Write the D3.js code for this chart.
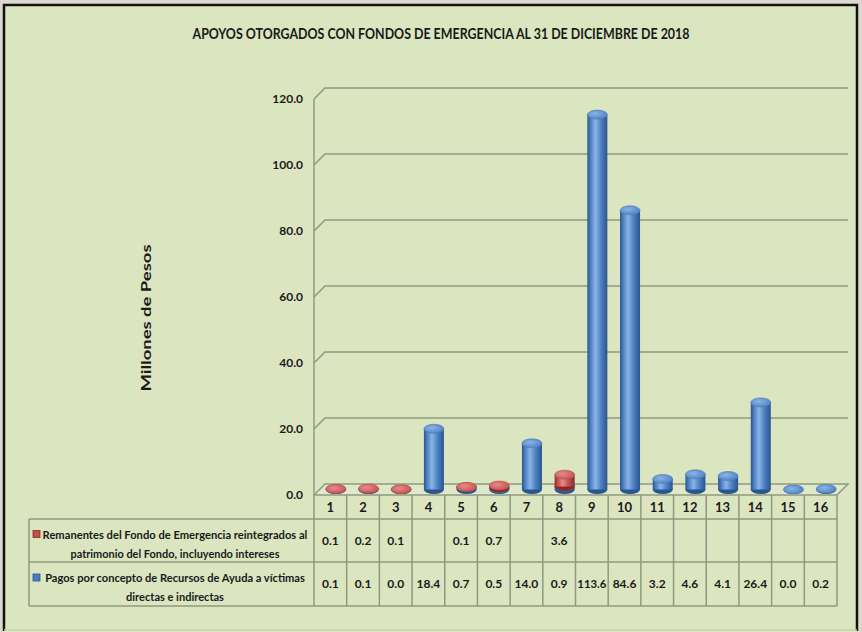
<!DOCTYPE html>
<html><head><meta charset="utf-8">
<script src="https://cdn.jsdelivr.net/npm/d3@7"></script>
<style>
html,body{margin:0;padding:0;background:#ddd8cf;}
svg{display:block;}
text{font-family:Lato,"Open Sans","Liberation Sans",sans-serif;font-weight:bold;fill:#1a1a1a;}
</style></head>
<body>
<svg id="c" width="862" height="632"></svg>
<script>
const title = "APOYOS OTORGADOS CON FONDOS DE EMERGENCIA AL 31 DE DICIEMBRE DE 2018";
const yTitle = "Millones de Pesos";
const categories = ["1","2","3","4","5","6","7","8","9","10","11","12","13","14","15","16"];
const remanentes = [0.1,0.2,0.1,null,0.1,0.7,null,3.6,null,null,null,null,null,null,null,null];
const pagos = [0.1,0.1,0.0,18.4,0.7,0.5,14.0,0.9,113.6,84.6,3.2,4.6,4.1,26.4,0.0,0.2];
const yTicks = [0,20,40,60,80,100,120];
const seriesNames = [
  ["Remanentes del Fondo de Emergencia reintegrados al","patrimonio del Fondo, incluyendo intereses"],
  ["Pagos por concepto de Recursos de Ayuda a víctimas","directas e indirectas"]
];
const seriesValues = [remanentes, pagos];
const seriesColors = [
  {dark:"#8a2a28", mid:"#c0504d", light:"#e88a86"},
  {dark:"#2a5590", mid:"#4a7ebf", light:"#8ab4e6"}
];

const svg = d3.select("#c");
const defs = svg.append("defs");
seriesColors.forEach((c,i)=>{
  const g = defs.append("linearGradient").attr("id","body"+i).attr("x1","0").attr("x2","1").attr("y1","0").attr("y2","0");
  g.append("stop").attr("offset","0").attr("stop-color",c.dark);
  g.append("stop").attr("offset","0.15").attr("stop-color",c.mid);
  g.append("stop").attr("offset","0.4").attr("stop-color",c.light);
  g.append("stop").attr("offset","0.7").attr("stop-color",c.mid);
  g.append("stop").attr("offset","1").attr("stop-color",c.dark);
  const t = defs.append("radialGradient").attr("id","top"+i).attr("cx","0.4").attr("cy","0.4").attr("r","0.7");
  t.append("stop").attr("offset","0").attr("stop-color",c.light);
  t.append("stop").attr("offset","1").attr("stop-color",c.mid);
});

// frame
svg.append("rect").attr("x",3).attr("y",4).attr("width",856).attr("height",628).attr("fill","#dbe5c0");
svg.append("path").attr("d","M4,631 V5 H857 V631").attr("fill","none").attr("stroke","#111").attr("stroke-width",2.5);
svg.append("line").attr("x1",4).attr("x2",857).attr("y1",630).attr("y2",630).attr("stroke","#c9d4ae").attr("stroke-width",1.5);

// title
svg.append("text").attr("x",441).attr("y",39).attr("text-anchor","middle").style("font-size","15px")
  .attr("textLength",497).attr("lengthAdjust","spacingAndGlyphs").text(title);

// geometry
const x0 = 314, x1 = 837, dx = 11, dy = -11;
const x = d3.scaleBand().domain(categories).range([x0,x1]);
const y = d3.scaleLinear().domain([0,120]).range([495,99]);
const gridColor = "#8e9b80";

const grid = svg.append("g");
yTicks.forEach(t=>{
  const yy = y(t);
  if (t===0) {
    grid.append("path").attr("d",`M${x0},${yy} L${x0+dx},${yy+dy} H${x1+dx} L${x1},${yy}`)
      .attr("fill","#dfe8c8").attr("stroke",gridColor).attr("stroke-width",1.5);
  } else {
    grid.append("path").attr("d",`M${x0},${yy} L${x0+dx},${yy+dy} H${x1+dx}`)
      .attr("fill","none").attr("stroke",gridColor).attr("stroke-width",1.5);
  }
});
grid.append("line").attr("x1",x0).attr("x2",x0).attr("y1",y(120)).attr("y2",y(0)).attr("stroke",gridColor).attr("stroke-width",1.5);

// y tick labels
svg.append("g").selectAll("text").data(yTicks).join("text")
  .attr("x",303).attr("y",d=>y(d)+4).attr("text-anchor","end").style("font-size","12px")
  .text(d=>d3.format(".1f")(d));

// y axis title
svg.append("text").attr("transform","translate(151,318) rotate(-90)").attr("text-anchor","middle")
  .style("font-size","14px").attr("textLength",147).attr("lengthAdjust","spacingAndGlyphs").text(yTitle);

// cylinders (stacked: pagos bottom, remanentes top), at mid depth
const bw = 20, ry = 4.5;
const bars = svg.append("g");
function cylinder(cx, yb, yt, idx){
  const g = bars.append("g");
  g.append("ellipse").attr("cx",cx).attr("cy",yb).attr("rx",bw/2).attr("ry",ry).attr("fill",seriesColors[idx].dark);
  g.append("rect").attr("x",cx-bw/2).attr("y",yt).attr("width",bw).attr("height",Math.max(0,yb-yt)).attr("fill",`url(#body${idx})`);
  g.append("ellipse").attr("cx",cx).attr("cy",yt).attr("rx",bw/2).attr("ry",ry).attr("fill",`url(#top${idx})`)
    .attr("stroke",seriesColors[idx].mid).attr("stroke-width",0.6);
}
categories.forEach((c,i)=>{
  const cx = x(c) + x.bandwidth()/2 + dx/2;
  const base = (v)=> y(v) + dy/2;
  const p = pagos[i] ?? 0;
  if (pagos[i] !== null) cylinder(cx, base(0), base(p), 1);
  if (remanentes[i] !== null) cylinder(cx, base(p), base(p + remanentes[i]), 0);
});

// data table
const tbl = svg.append("g");
const lineColor = "#8f9882";
const rowTop = [495, 519, 562, 606];
const legendX = 29;
tbl.append("line").attr("x1",x0).attr("x2",x1).attr("y1",rowTop[0]).attr("y2",rowTop[0]).attr("stroke",lineColor).attr("stroke-width",1.5);
[1,2,3].forEach(r=>tbl.append("line").attr("x1",legendX).attr("x2",x1).attr("y1",rowTop[r]).attr("y2",rowTop[r]).attr("stroke",lineColor).attr("stroke-width",1.5));
categories.forEach(c=>{
  tbl.append("line").attr("x1",x(c)).attr("x2",x(c)).attr("y1",rowTop[0]).attr("y2",rowTop[3]).attr("stroke",lineColor).attr("stroke-width",1.5);
});
tbl.append("line").attr("x1",x1).attr("x2",x1).attr("y1",rowTop[0]).attr("y2",rowTop[3]).attr("stroke",lineColor).attr("stroke-width",1.5);
tbl.append("line").attr("x1",legendX).attr("x2",legendX).attr("y1",rowTop[1]).attr("y2",rowTop[3]).attr("stroke",lineColor).attr("stroke-width",1.5);

tbl.selectAll("text.h").data(categories).join("text").attr("class","h")
  .attr("x",d=>x(d)+x.bandwidth()/2).attr("y",(rowTop[0]+rowTop[1])/2+5)
  .attr("text-anchor","middle").style("font-size","13px").text(d=>d);

// fit a text to a target width by adjusting its font size
function fit(sel, target, base){
  sel.style("font-size", base+"px");
  const w = sel.node().getComputedTextLength();
  if (w > target) sel.style("font-size", (base*target/w).toFixed(2)+"px");
  return sel;
}

const legendWidths = [[265,209],[260,98]];
seriesValues.forEach((vals,s)=>{
  const cy = (rowTop[s+1]+rowTop[s+2])/2 + 4;
  tbl.selectAll("text.v"+s).data(vals.map((v,i)=>({v,c:categories[i]})).filter(d=>d.v!==null)).join("text")
    .attr("class","v"+s).attr("x",d=>x(d.c)+x.bandwidth()/2).attr("y",cy)
    .attr("text-anchor","middle").text(d=>d3.format(".1f")(d.v))
    .each(function(){ fit(d3.select(this), 29, 12); });
  const cx = 175;
  const lines = seriesNames[s];
  fit(tbl.append("text").attr("x",cx).attr("y",cy-6).attr("text-anchor","middle").text(lines[0]), legendWidths[s][0], 12.5);
  fit(tbl.append("text").attr("x",cx).attr("y",cy+13).attr("text-anchor","middle").text(lines[1]), legendWidths[s][1], 12.5);
  tbl.append("rect").attr("x",33).attr("y",cy-14).attr("width",7).attr("height",7)
    .attr("fill",seriesColors[s].mid).attr("stroke",seriesColors[s].dark).attr("stroke-width",0.8);
});
</script>
</body></html>
